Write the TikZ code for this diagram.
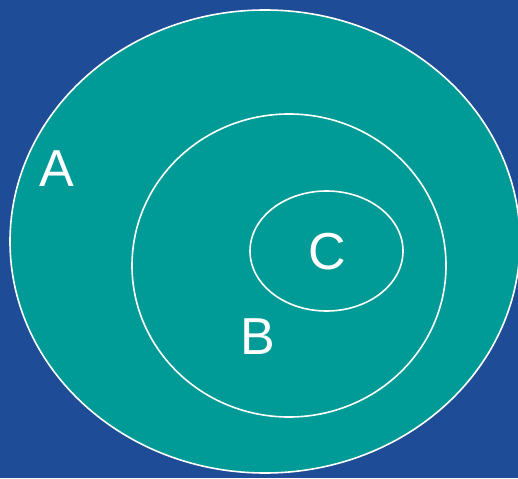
\documentclass[tikz,border=0pt]{standalone}
\usepackage{fontspec}
\setmainfont{Liberation Sans}
\definecolor{bgblue}{RGB}{30,76,150}
\definecolor{setteal}{RGB}{0,155,150}

\begin{document}
\begin{tikzpicture}[x=1pt, y=-1pt,
    setring/.style={draw=white, line width=1.6pt, fill=setteal},
    setlabel/.style={text=white, font=\fontsize{52}{60}\selectfont, inner sep=0pt}]
  \fill[bgblue] (0,0) rectangle (518,478);
  \useasboundingbox (0,0) rectangle (518,478);
  % nested sets A, B, C
  \coordinate (A) at (265,241.5);
  \coordinate (B) at (289,265.5);
  \coordinate (C) at (326.5,251);
  \draw[setring] (A) ellipse [x radius=255, y radius=231.5];
  \draw[setring] (B) ellipse [x radius=157, y radius=151.5];
  \draw[setring] (C) ellipse [x radius=76.5, y radius=60];
  \node[setlabel] (labA) at (57,169) {A};
  \node[setlabel] (labB) at (258,337) {B};
  \node[setlabel] (labC) at (327,252) {C};
\end{tikzpicture}
\end{document}
